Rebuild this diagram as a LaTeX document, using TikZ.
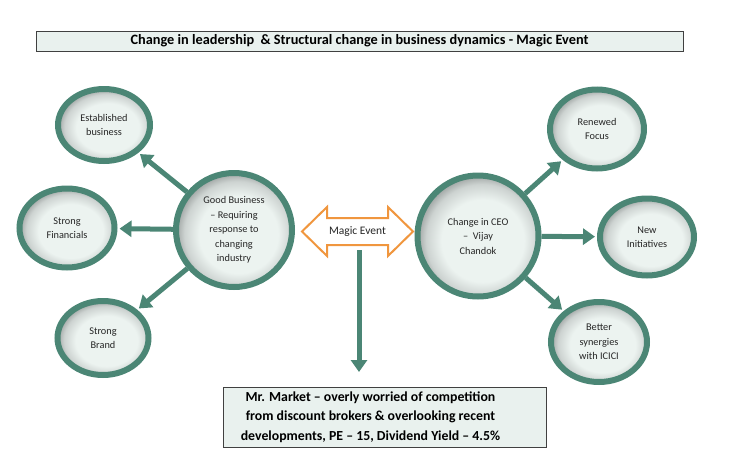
\documentclass[tikz,border=0pt]{standalone}
\usepackage{fontspec}
\setmainfont{Carlito}
\usetikzlibrary{shapes.geometric,arrows.meta,positioning}
\definecolor{ringteal}{RGB}{75,134,117}
\definecolor{eventorange}{RGB}{240,150,62}
\definecolor{boxfill}{RGB}{233,241,238}
\definecolor{bubblein}{RGB}{236,243,240}
\definecolor{bubblemid}{RGB}{205,211,209}
\definecolor{bubbleout}{RGB}{125,130,129}
\pgfdeclareradialshading{bubbleshade}{\pgfpoint{3bp}{-3bp}}{color(0bp)=(bubblein); color(17bp)=(bubblein); color(23bp)=(bubblemid); color(29bp)=(bubbleout); color(50bp)=(bubbleout)}
\tikzstyle{bubble} = [ellipse, draw=ringteal, line width=6pt, shading=bubbleshade, align=center, inner sep=0pt, text=black!85, font=\fontsize{10.3}{14.5}\selectfont]
\tikzstyle{banner} = [rectangle, draw=black!75, line width=0.8pt, fill=boxfill, inner sep=0pt]
\tikzstyle{link} = [->, draw=ringteal, line width=5pt, shorten >=2pt]

\begin{document}
\begin{tikzpicture}[x=1pt, y=-1pt, >={Triangle[length=12pt,width=16pt]}]
    \useasboundingbox (0,0) rectangle (732,469);
    % headline and market boxes
    \node[banner, minimum width=647pt, minimum height=20pt, font=\bfseries\fontsize{14.3}{16}\selectfont] (title) at (359.5,41) {Change in leadership\ \ \& Structural change in business dynamics - Magic Event};
    \node[banner, minimum width=323pt, minimum height=60pt] (market) at (384.5,417) {};
    \node[align=center, font=\bfseries\fontsize{13.8}{19.5}\selectfont] (marketnote) at ([xshift=-14pt]market.center) {Mr. Market -- overly worried of competition\\from discount brokers \& overlooking recent\\developments, PE -- 15, Dividend Yield -- 4.5\%};

    % left cluster
    \node[bubble, minimum width=116pt, minimum height=114pt] (good) at (234,230) {Good Business\\-- Requiring\\response to\\changing\\industry};
    \node[bubble, minimum width=92pt, minimum height=72pt] (estab) at (104,125) {Established\\business};
    \node[bubble, minimum width=95pt, minimum height=79pt] (fin) at (67,228) {Strong\\Financials};
    \node[bubble, minimum width=91pt, minimum height=74pt] (brand) at (103,338) {Strong\\Brand};

    % right cluster
    \node[bubble, minimum width=121pt, minimum height=121pt] (ceo) at (478,236) {Change in CEO\\--\ \ Vijay\\Chandok};
    \node[bubble, minimum width=94pt, minimum height=79pt] (renew) at (597,129) {Renewed\\Focus};
    \node[bubble, minimum width=94pt, minimum height=77pt] (newinit) at (647,237) {New\\Initiatives};
    \node[bubble, minimum width=96pt, minimum height=80pt] (synergy) at (599,342) {Better\\synergies\\with ICICI};

    \draw[link] (good) -- (estab);
    \draw[link] (good) -- (fin);
    \draw[link] (good) -- (brand);
    \draw[link] (ceo) -- (renew);
    \draw[link] (ceo) -- (newinit);
    \draw[link] (ceo) -- (synergy);

    % magic event double arrow
    \draw[eventorange, line width=2pt, fill=white, line join=miter] (302,231.5) -- (327,207) -- (327,218) -- (388,218) -- (388,207) -- (413,231.5) -- (388,256) -- (388,245) -- (327,245) -- (327,256) -- cycle;
    \node[text=black!85, font=\fontsize{11.5}{13}\selectfont] (magic) at (357.5,232) {Magic Event};
    \coordinate (dropstart) at (359,250);
    \coordinate (dropend) at (359,374);
    \draw[link] (dropstart) -- (dropend);
\end{tikzpicture}
\end{document}
